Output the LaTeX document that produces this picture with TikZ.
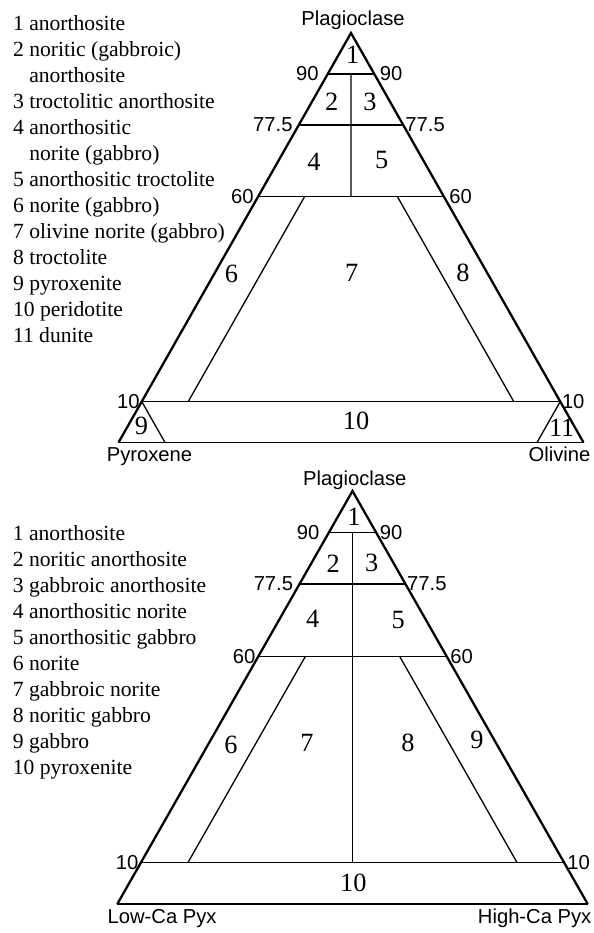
\documentclass[tikz,border=0pt]{standalone}
\usepackage{fontspec}
\setmainfont{Liberation Serif}
\setsansfont{Liberation Sans}

\begin{document}
\begin{tikzpicture}[x=0.02cm,y=-0.02cm]
\tikzset{
  rimline/.style={draw=black,line width=1.3pt,line join=miter},
  tieline/.style={draw=black,line width=0.75pt},
  endlabel/.style={font=\sffamily\fontsize{11.5}{13}\selectfont,inner sep=0pt},
  ticklabel/.style={font=\sffamily\fontsize{11.5}{13}\selectfont,inner sep=0pt},
  fieldnum/.style={font=\fontsize{15}{17}\selectfont,inner sep=0pt},
  legendtext/.style={align=left,anchor=north west,inner sep=0pt,font=\fontsize{12.3}{14.8}\selectfont}
}
\useasboundingbox (0,0) rectangle (593,933);

% upper diagram: plagioclase - pyroxene - olivine
\coordinate (pl1) at (351,33);
\coordinate (px1) at (118.5,442.5);
\coordinate (ol1) at (583.5,442.5);
\coordinate (a90l) at (barycentric cs:pl1=0.9,px1=0.1);
\coordinate (a90r) at (barycentric cs:pl1=0.9,ol1=0.1);
\coordinate (a77l) at (barycentric cs:pl1=0.775,px1=0.225);
\coordinate (a77r) at (barycentric cs:pl1=0.775,ol1=0.225);
\coordinate (a60l) at (barycentric cs:pl1=0.6,px1=0.4);
\coordinate (a60r) at (barycentric cs:pl1=0.6,ol1=0.4);
\coordinate (a10l) at (barycentric cs:pl1=0.1,px1=0.9);
\coordinate (a10r) at (barycentric cs:pl1=0.1,ol1=0.9);
\coordinate (a90m) at (barycentric cs:pl1=0.9,px1=0.05,ol1=0.05);
\coordinate (a60m) at (barycentric cs:pl1=0.6,px1=0.2,ol1=0.2);
\coordinate (a60p) at (barycentric cs:pl1=0.6,px1=0.3,ol1=0.1);
\coordinate (a10p) at (barycentric cs:pl1=0.1,px1=0.8,ol1=0.1);
\coordinate (a60o) at (barycentric cs:pl1=0.6,px1=0.1,ol1=0.3);
\coordinate (a10o) at (barycentric cs:pl1=0.1,px1=0.1,ol1=0.8);
\coordinate (a0p) at (barycentric cs:px1=0.9,ol1=0.1);
\coordinate (a0o) at (barycentric cs:px1=0.1,ol1=0.9);

\draw[rimline] (px1) -- (pl1) -- (ol1);
\draw[tieline] (px1) -- (ol1);
\draw[tieline] (a90l) -- (a90r);
\draw[tieline] (a77l) -- (a77r);
\draw[tieline] (a60l) -- (a60r);
\draw[tieline] (a10l) -- (a10r);
\draw[tieline] (a90m) -- (a60m);
\draw[tieline] (a60p) -- (a10p);
\draw[tieline] (a60o) -- (a10o);
\draw[tieline] (a10l) -- (a0p);
\draw[tieline] (a10r) -- (a0o);

\node[endlabel,anchor=base] (plag1) at (353,26) {Plagioclase};
\node[endlabel,anchor=base] (pyx1) at (149.5,461.7) {Pyroxene};
\node[endlabel,anchor=base] (oliv1) at (559.5,461.7) {Olivine};
\node[ticklabel,left=5pt] (t90l1) at (a90l) {90};
\node[ticklabel,right=3pt] (t90r1) at (a90r) {90};
\node[ticklabel,left=3.3pt] (t77l1) at (a77l) {77.5};
\node[ticklabel,right=1pt] (t77r1) at (a77r) {77.5};
\node[ticklabel,left=2.3pt] (t60l1) at (a60l) {60};
\node[ticklabel,right=2.8pt] (t60r1) at (a60r) {60};
\node[ticklabel,left=1pt] (t10l1) at (a10l) {10};
\node[ticklabel,right=0.8pt] (t10r1) at (a10r) {10};

\node[fieldnum] (f1a) at (352.7,55) {1};
\node[fieldnum] (f2a) at (331.7,101.7) {2};
\node[fieldnum] (f3a) at (370,101.7) {3};
\node[fieldnum] (f4a) at (314,162) {4};
\node[fieldnum] (f5a) at (381.7,160) {5};
\node[fieldnum] (f6a) at (231.5,274) {6};
\node[fieldnum] (f7a) at (351.7,273) {7};
\node[fieldnum] (f8a) at (463,273) {8};
\node[fieldnum] (f9a) at (141.5,426) {9};
\node[fieldnum] (f10a) at (356,421) {10};
\node[fieldnum] (f11a) at (561.7,428) {11};

\node[legendtext] (leg1) at (12.7,15) {1 anorthosite\\
2 noritic (gabbroic)\\
\hphantom{2 }anorthosite\\
3 troctolitic anorthosite\\
4 anorthositic\\
\hphantom{4 }norite (gabbro)\\
5 anorthositic troctolite\\
6 norite (gabbro)\\
7 olivine norite (gabbro)\\
8 troctolite\\
9 pyroxenite\\
10 peridotite\\
11 dunite};

% lower diagram: plagioclase - low-Ca pyroxene - high-Ca pyroxene
\coordinate (pl2) at (352.5,491);
\coordinate (lo2) at (117.3,904);
\coordinate (hi2) at (587.7,904);
\coordinate (b90l) at (barycentric cs:pl2=0.9,lo2=0.1);
\coordinate (b90r) at (barycentric cs:pl2=0.9,hi2=0.1);
\coordinate (b77l) at (barycentric cs:pl2=0.775,lo2=0.225);
\coordinate (b77r) at (barycentric cs:pl2=0.775,hi2=0.225);
\coordinate (b60l) at (barycentric cs:pl2=0.6,lo2=0.4);
\coordinate (b60r) at (barycentric cs:pl2=0.6,hi2=0.4);
\coordinate (b10l) at (barycentric cs:pl2=0.1,lo2=0.9);
\coordinate (b10r) at (barycentric cs:pl2=0.1,hi2=0.9);
\coordinate (b90m) at (barycentric cs:pl2=0.9,lo2=0.05,hi2=0.05);
\coordinate (b10m) at (barycentric cs:pl2=0.1,lo2=0.45,hi2=0.45);
\coordinate (b60p) at (barycentric cs:pl2=0.6,lo2=0.3,hi2=0.1);
\coordinate (b10p) at (barycentric cs:pl2=0.1,lo2=0.8,hi2=0.1);
\coordinate (b60o) at (barycentric cs:pl2=0.6,lo2=0.1,hi2=0.3);
\coordinate (b10o) at (barycentric cs:pl2=0.1,lo2=0.1,hi2=0.8);

\draw[rimline] (lo2) -- (pl2) -- (hi2);
\draw[tieline] (lo2) -- (hi2);
\draw[tieline] (b90l) -- (b90r);
\draw[tieline] (b77l) -- (b77r);
\draw[tieline] (b60l) -- (b60r);
\draw[tieline] (b10l) -- (b10r);
\draw[tieline] (b90m) -- (b10m);
\draw[tieline] (b60p) -- (b10p);
\draw[tieline] (b60o) -- (b10o);

\node[endlabel,anchor=base] (plag2) at (354.8,485) {Plagioclase};
\node[endlabel,anchor=base west] (lowca) at (107.3,923.3) {Low-Ca Pyx};
\node[endlabel,anchor=base east] (highca) at (591.7,923.3) {High-Ca Pyx};
\node[ticklabel,left=5.3pt] (t90l2) at (b90l) {90};
\node[ticklabel,right=2pt] (t90r2) at (b90r) {90};
\node[ticklabel,left=3.5pt] (t77l2) at (b77l) {77.5};
\node[ticklabel,right=0.8pt] (t77r2) at (b77r) {77.5};
\node[ticklabel,left=1.5pt] (t60l2) at (b60l) {60};
\node[ticklabel,right=2pt] (t60r2) at (b60r) {60};
\node[ticklabel,left=1.2pt] (t10l2) at (b10l) {10};
\node[ticklabel,right=1.6pt] (t10r2) at (b10r) {10};

\node[fieldnum] (f1b) at (354,516.7) {1};
\node[fieldnum] (f2b) at (333.3,563.3) {2};
\node[fieldnum] (f3b) at (371.7,563.3) {3};
\node[fieldnum] (f4b) at (312.7,619.3) {4};
\node[fieldnum] (f5b) at (398.3,620) {5};
\node[fieldnum] (f6b) at (231,745) {6};
\node[fieldnum] (f7b) at (307,743) {7};
\node[fieldnum] (f8b) at (408,743) {8};
\node[fieldnum] (f9b) at (477,740) {9};
\node[fieldnum] (f10b) at (353.3,883.3) {10};

\node[legendtext] (leg2) at (12.5,525.6) {1 anorthosite\\
2 noritic anorthosite\\
3 gabbroic anorthosite\\
4 anorthositic norite\\
5 anorthositic gabbro\\
6 norite\\
7 gabbroic norite\\
8 noritic gabbro\\
9 gabbro\\
10 pyroxenite};
\end{tikzpicture}
\end{document}
